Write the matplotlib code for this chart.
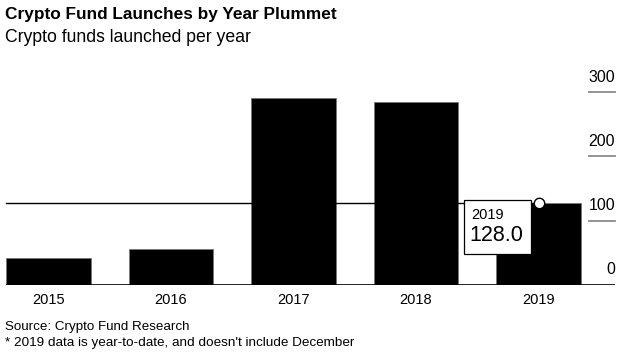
import matplotlib
matplotlib.use("Agg")
import matplotlib.pyplot as plt
import matplotlib.transforms as mtransforms

categories = ["2015", "2016", "2017", "2018", "2019"]
values = [42, 56, 291, 285, 128]
ytick_values = [0, 100, 200, 300]
ytick_labels = ["0", "100", "200", "300"]
title = "Crypto Fund Launches by Year Plummet"
subtitle = "Crypto funds launched per year"
source = "Source: Crypto Fund Research"
note = "* 2019 data is year-to-date, and doesn't include December"
hover_index = 4

plt.rcParams['font.family'] = ['Liberation Sans', 'DejaVu Sans']

W, H = 629, 353
fig = plt.figure(figsize=(W / 100, H / 100), dpi=100)
left_px, right_px = 6, 615
bottom_px, top_px = 284.5, 86.1
ax = fig.add_axes([left_px / W, 1 - bottom_px / H, (right_px - left_px) / W, (bottom_px - top_px) / H])

x = list(range(len(categories)))
ax.bar(x, values, width=0.69, color="black", edgecolor="#777777", linewidth=0.6, zorder=2)
ax.set_xlim(-0.347, 4.624)
ax.set_ylim(0, 310)

for s in ax.spines.values():
    s.set_visible(False)
ax.set_yticks([])
ax.set_xticks(x)
ax.set_xticklabels(categories, fontsize=10.5)
ax.tick_params(axis="x", length=0, pad=6)

# baseline
ax.axhline(0, color="black", linewidth=1.2, zorder=3)

# y ticks on the right: short gray lines with labels above
blend = mtransforms.blended_transform_factory(ax.transAxes, ax.transData)
for v, lab in zip(ytick_values, ytick_labels):
    if v != 0:
        ax.plot([0.957, 1.0], [v, v], color="#8a8a8a", linewidth=1.3, transform=blend, clip_on=False, zorder=1)
    off = mtransforms.offset_copy(blend, fig=fig, x=0, y=5.5, units="points")
    ax.text(1.0, v, lab, transform=off, ha="right", va="bottom", fontsize=11.5, color="black")

# crosshair line and hover marker
hv = values[hover_index]
ax.plot([-0.347, hover_index], [hv, hv], color="black", linewidth=1.0, zorder=4, clip_on=False)
ax.plot([hover_index], [hv], marker="o", markersize=7.5, markerfacecolor="white",
        markeredgecolor="black", markeredgewidth=1.0, zorder=6, clip_on=False)

# tooltip box
bx0 = (464 - 48.5) / 122.5
bx1 = (530.7 - 48.5) / 122.5
by_top = (284.5 - 200) / 0.64
by_bot = (284.5 - 254) / 0.64
ax.add_patch(plt.Rectangle((bx0, by_bot), bx1 - bx0, by_top - by_bot, facecolor="white",
                           edgecolor="black", linewidth=0.9, zorder=5))
ax.text(bx0 + 0.06, (284.5 - 215) / 0.64, categories[hover_index], fontsize=10.5, va="center", ha="left", zorder=7)
ax.text(bx0 + 0.04, (284.5 - 236) / 0.64, f"{hv:.1f}", fontsize=15.5, va="center", ha="left", zorder=7)

# titles
fig.text(5 / W, 1 - 15 / H, title, fontsize=12.4, fontweight="bold", va="center", ha="left")
fig.text(5 / W, 1 - 38 / H, subtitle, fontsize=12.7, va="center", ha="left")
fig.text(5 / W, 1 - 327 / H, source, fontsize=9.6, va="center", ha="left")
fig.text(5 / W, 1 - 343 / H, note, fontsize=9.7, va="center", ha="left")

fig.savefig("out.png", dpi=100)
